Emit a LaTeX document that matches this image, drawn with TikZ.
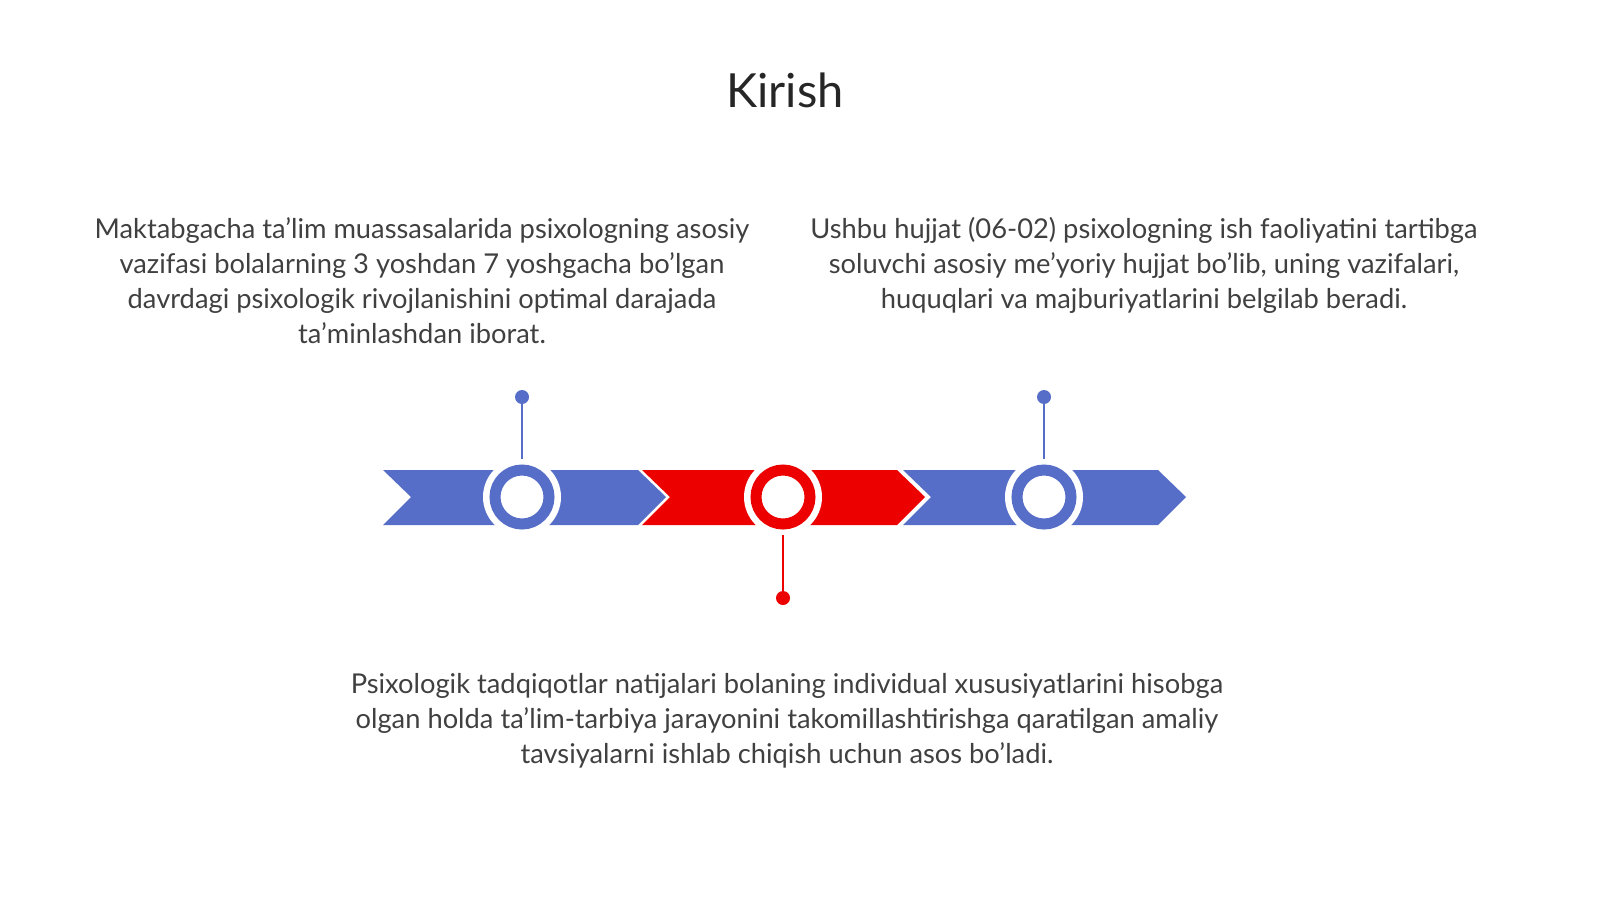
\documentclass[tikz,border=0pt]{standalone}
\usepackage{fontspec}
\setmainfont{Lato}
\usetikzlibrary{calc}
\definecolor{tlblue}{RGB}{86,110,200}
\definecolor{tlred}{RGB}{236,0,0}
\definecolor{tltext}{RGB}{64,64,64}
\tikzset{
	txt/.style={text=tltext,align=center,font=\fontsize{27.3}{35}\selectfont,inner sep=0pt},
	stem/.style={line width=2.5pt},
	dot/.style={circle,fill,inner sep=0pt,minimum size=14pt},
}
\newcommand{\chev}[2]{% x-start, colour
	\fill[#2] (#1,470) -- ++(255,0) -- ++(28,27) -- ++(-28,28) -- ++(-255,0) -- ++(28,-28) -- cycle;
}
\newcommand{\ring}[3]{% name, x, colour
	\fill[white] (#2,497) circle (39);
	\draw[#3,line width=11pt] (#2,497) circle (27);
	\coordinate (#1) at (#2,497);
}
\begin{document}
\begin{tikzpicture}[x=1pt,y=-1pt]
		\node[txt,font=\fontsize{47}{56}\selectfont,text=black!85] (title) at (785,90) {Kirish};
		
		%band
		\chev{383}{tlblue}
		\chev{642}{tlred}
		\chev{903}{tlblue}
		\ring{c1}{522}{tlblue}
		\ring{c2}{783}{tlred}
		\ring{c3}{1044}{tlblue}
		
		%stems
		\node[dot,tlblue] (d1) at (522,397) {};
		\node[dot,tlred] (d2) at (783,598) {};
		\node[dot,tlblue] (d3) at (1044,397) {};
		\draw[stem,tlblue] (d1) -- ($(c1)+(0,-38)$);
		\draw[stem,tlred] (d2) -- ($(c2)+(0,38)$);
		\draw[stem,tlblue] (d3) -- ($(c3)+(0,-38)$);
		
		%texts
		\node[txt,anchor=north] (t1) at (422,217) {Maktabgacha ta'lim muassasalarida psixologning asosiy\\vazifasi bolalarning 3 yoshdan 7 yoshgacha bo'lgan\\davrdagi psixologik rivojlanishini optimal darajada\\ta'minlashdan iborat.};
		\node[txt,anchor=north] (t3) at (1144,217) {Ushbu hujjat (06-02) psixologning ish faoliyatini tartibga\\soluvchi asosiy me'yoriy hujjat bo'lib, uning vazifalari,\\huquqlari va majburiyatlarini belgilab beradi.};
		\node[txt,anchor=north] (t2) at (787,673) {Psixologik tadqiqotlar natijalari bolaning individual xususiyatlarini hisobga\\olgan holda ta'lim-tarbiya jarayonini takomillashtirishga qaratilgan amaliy\\tavsiyalarni ishlab chiqish uchun asos bo'ladi.};
		\pgfresetboundingbox
		\path[use as bounding box] (0,0) rectangle (1600,899);
\end{tikzpicture}
\end{document}
